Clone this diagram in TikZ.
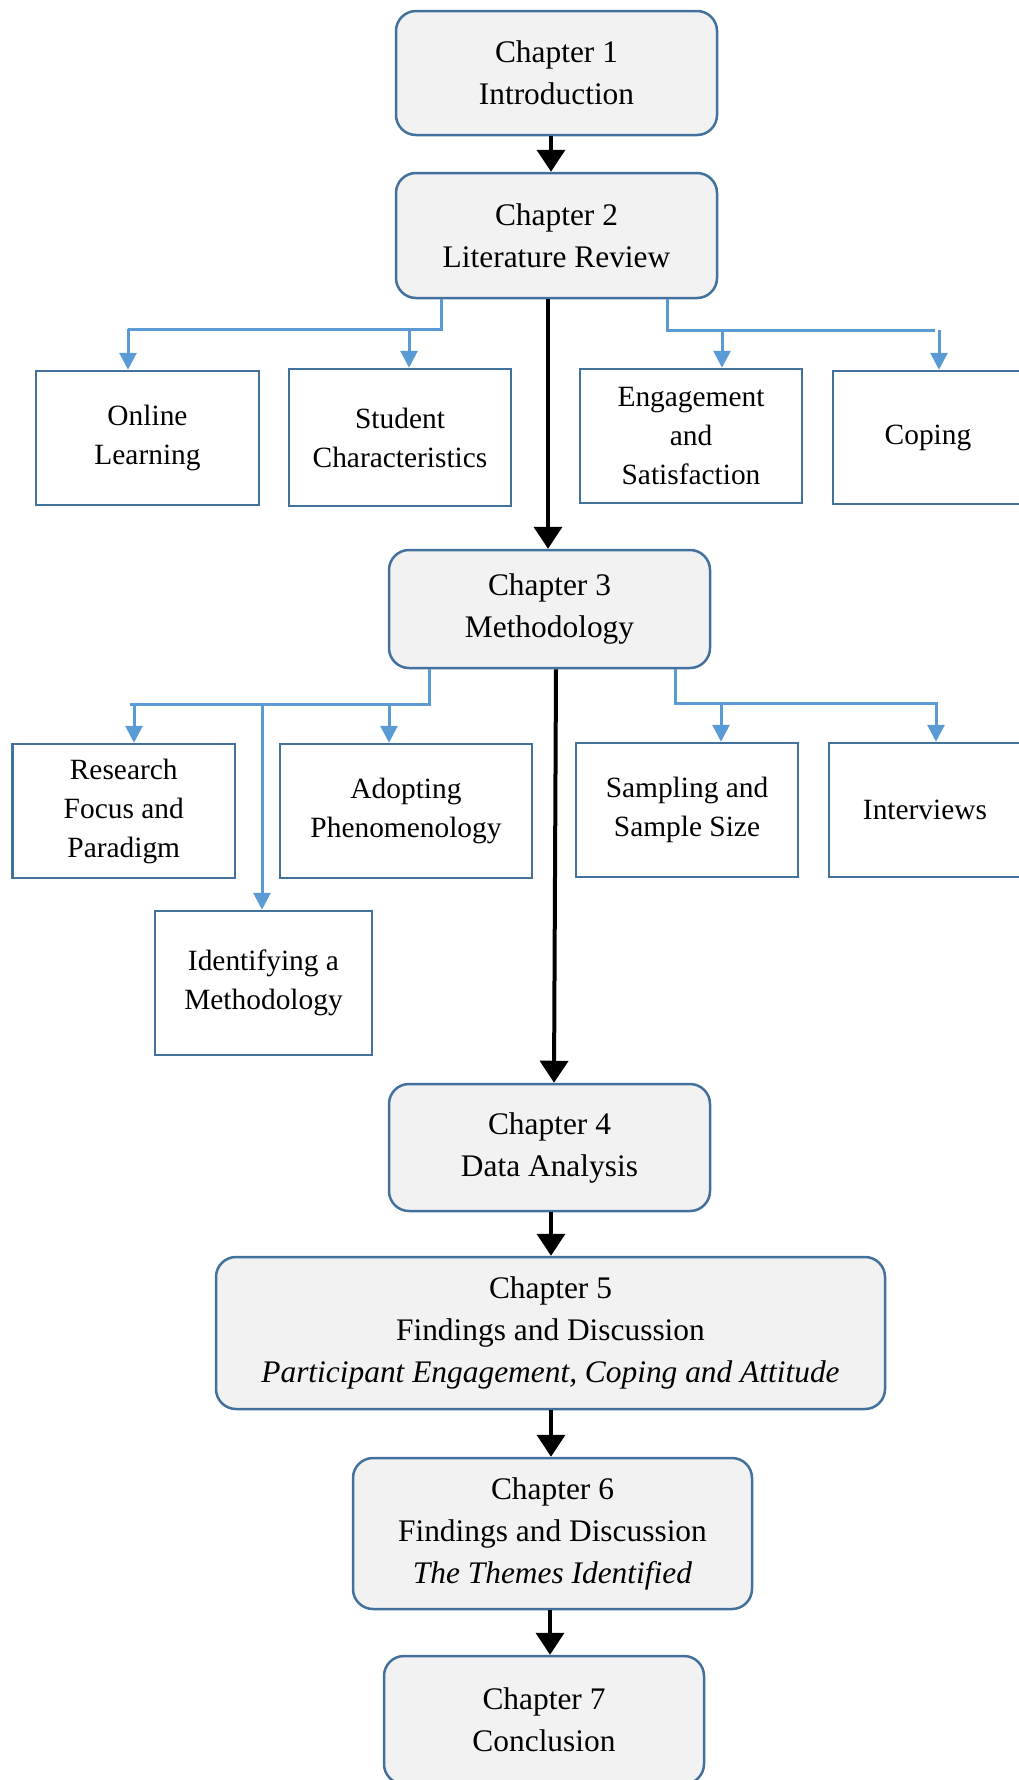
\documentclass[tikz,border=0pt]{standalone}
\usepackage{fontspec}
\setmainfont{Liberation Serif}
\usetikzlibrary{arrows.meta}
\definecolor{boxedge}{HTML}{41719C}
\definecolor{boxfill}{HTML}{F2F2F2}
\definecolor{linkblue}{HTML}{5B9BD5}
\tikzset{
  chapter/.style={draw=boxedge, line width=2.5pt, fill=boxfill, rounded corners=20pt,
    align=center, inner sep=0pt, font=\fontsize{31.4}{42}\selectfont},
  topic/.style={draw=boxedge, line width=2.5pt, fill=white,
    align=center, inner sep=0pt, font=\fontsize{29.4}{39}\selectfont},
  flow/.style={line width=4pt, -{Triangle[width=28pt,length=22pt]}},
  branch/.style={draw=linkblue, line width=3pt},
  brancharrow/.style={branch, -{Triangle[width=17pt,length=17pt]}},
}
\begin{document}
\begin{tikzpicture}[x=1pt, y=-1pt]
\useasboundingbox (0,0) rectangle (1019,1780);

% chapters
\node[chapter, minimum width=321pt, minimum height=124pt] (ch1) at (556.5,73) {Chapter 1\\Introduction};
\node[chapter, minimum width=321pt, minimum height=125pt] (ch2) at (556.5,235.5) {Chapter 2\\Literature Review};
\node[chapter, minimum width=321pt, minimum height=118pt] (ch3) at (549.5,609) {Chapter 3\\Methodology};
\node[chapter, minimum width=321pt, minimum height=127pt] (ch4) at (549.5,1147.5) {Chapter 4\\Data Analysis};
\node[chapter, minimum width=669pt, minimum height=152pt] (ch5) at (550.5,1333) {Chapter 5\\Findings and Discussion\\\textit{Participant Engagement, Coping and Attitude}};
\node[chapter, minimum width=399pt, minimum height=151pt] (ch6) at (552.5,1533.5) {Chapter 6\\Findings and Discussion\\\textit{The Themes Identified}};
\node[chapter, minimum width=320pt, minimum height=128pt] (ch7) at (544,1720) {Chapter 7\\Conclusion};

% literature review topics
\node[topic, minimum width=223pt, minimum height=134pt] (online) at (147.5,438) {Online\\Learning};
\node[topic, minimum width=222pt, minimum height=137pt] (student) at (400,437.5) {Student\\Characteristics};
\node[topic, minimum width=222pt, minimum height=134pt] (engage) at (691,436) {Engagement\\and\\Satisfaction};
\node[topic, minimum width=190pt, minimum height=133pt] (coping) at (928,437.5) {Coping};

% methodology topics
\node[topic, minimum width=222.5pt, minimum height=134pt] (focus) at (123.75,811) {Research\\Focus and\\Paradigm};
\node[topic, minimum width=252pt, minimum height=134pt] (phenom) at (406,811) {Adopting\\Phenomenology};
\node[topic, minimum width=217pt, minimum height=144pt] (identify) at (263.5,983) {Identifying a\\Methodology};
\node[topic, minimum width=222pt, minimum height=134pt] (sampling) at (687,810) {Sampling and\\Sample Size};
\node[topic, minimum width=192pt, minimum height=134pt] (interviews) at (925,810) {Interviews};

% main chapter sequence
\draw[flow] ([xshift=-5.5pt]ch1.south) -- ([xshift=-5.5pt]ch2.north);
\draw[flow] ([xshift=-8.5pt]ch2.south) -- ([xshift=-1.5pt]ch3.north);
\draw[flow] ([xshift=6.5pt]ch3.south) -- ([xshift=4.5pt]ch4.north);
\draw[flow] ([xshift=1.5pt]ch4.south) -- ([xshift=0.5pt]ch5.north);
\draw[flow] ([xshift=0.5pt]ch5.south) -- ([xshift=-1.5pt]ch6.north);
\draw[flow] ([xshift=-2.5pt]ch6.south) -- ([xshift=6pt]ch7.north);

% branch junctions below chapter 2
\coordinate (l2) at (441,329);
\coordinate (l2end) at (128,329);
\coordinate (l2b) at (409,329);
\coordinate (r2) at (667,330);
\coordinate (r2end) at (935,330);
\coordinate (r2a) at (722,330);
\coordinate (r2b) at (939,330);
\draw[branch] (ch2.south -| l2) -- (l2) -- (l2end);
\draw[brancharrow] (l2end) -- (l2end |- online.north);
\draw[brancharrow] (l2b) -- (l2b |- student.north);
\draw[branch] (ch2.south -| r2) -- (r2) -- (r2end);
\draw[brancharrow] (r2a) -- (r2a |- engage.north);
\draw[brancharrow] (r2b) -- (r2b |- coping.north);

% branch junctions below chapter 3
\coordinate (l3) at (429,704);
\coordinate (l3end) at (130,704);
\coordinate (l3a) at (134,704);
\coordinate (l3b) at (262,704);
\coordinate (l3c) at (389,704);
\coordinate (r3) at (675,703);
\coordinate (r3end) at (938,703);
\coordinate (r3a) at (721,703);
\coordinate (r3b) at (936,703);
\draw[branch] (ch3.south -| l3) -- (l3) -- (l3end);
\draw[brancharrow] (l3a) -- (l3a |- focus.north);
\draw[brancharrow] (l3b) -- (l3b |- identify.north);
\draw[brancharrow] (l3c) -- (l3c |- phenom.north);
\draw[branch] (ch3.south -| r3) -- (r3) -- (r3end);
\draw[brancharrow] (r3a) -- (r3a |- sampling.north);
\draw[brancharrow] (r3b) -- (r3b |- interviews.north);
\end{tikzpicture}
\end{document}
